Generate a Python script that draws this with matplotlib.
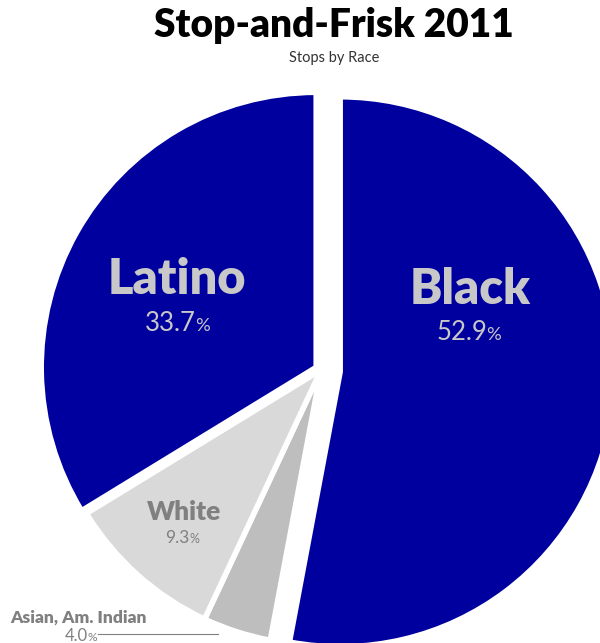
import numpy as np
import matplotlib
matplotlib.use("Agg")
import matplotlib.pyplot as plt

# data (clockwise from 12 o'clock)
groups = ["Black", "Asian, Am. Indian", "White", "Latino"]
shares = [52.9, 4.0, 9.3, 33.7]
colors = ["#00009E", "#BEBEBE", "#D9D9D9", "#00009E"]
explode = [0.07, 0.0, 0.0, 0.02]

BLUE_TXT = "#C8C8C8"
GRAY_TXT = "#808080"

fig = plt.figure(figsize=(6.0, 6.43), dpi=100)
ax = fig.add_axes([0, 0, 1, 1])

# pie centre sits at pixel (321, 370), radius 275 px
cx, cy, r = 321, 370, 275


def px(x, y):
    return (x - cx) / r, (cy - y) / r


ax.pie(shares, colors=colors, explode=explode, startangle=90, counterclock=False,
       radius=1.0, wedgeprops=dict(edgecolor="white", linewidth=4))
ax.set_xlim(px(0, 0)[0], px(600, 0)[0])
ax.set_ylim(px(0, 643)[1], px(0, 0)[1])
ax.set_aspect("equal")
ax.axis("off")


def pct_text(split_x, base_y, value, size, color):
    # number left of split, smaller % sign right of it, same baseline
    ax.text(*px(split_x, base_y), f"{value:.1f}", ha="right", va="baseline",
            fontsize=size, family="Lato", color=color, zorder=5)
    ax.text(*px(split_x - 1, base_y), "%", ha="left", va="baseline",
            fontsize=size * 0.72, family="Lato", color=color, zorder=5)


def label(x, y, name, value, size, psize, color, base_y, split):
    ax.text(*px(x, y), name, ha="center", va="center", fontsize=size,
            fontweight="heavy", family="Lato", color=color, zorder=5)
    pct_text(x + split, base_y, value, psize, color)


label(470, 290, groups[0], shares[0], 35, 18.5, BLUE_TXT, 340, 17)
label(177, 280, groups[3], shares[3], 35, 18.5, BLUE_TXT, 331, 19)
label(184, 512, groups[2], shares[2], 19, 12.5, GRAY_TXT, 543, 6)

# Asian label, outside with leader line
ax.text(*px(78, 618), groups[1], ha="center", va="center", fontsize=12.5,
        fontweight="heavy", family="Lato", color=GRAY_TXT)
pct_text(88, 641, shares[1], 12, GRAY_TXT)
x0, y0 = px(98, 634)
x1, y1 = px(218, 634)
ax.plot([x0, x1], [y0, y1], color=GRAY_TXT, lw=0.8)

fig.text(334 / 600, 1 - 25 / 643, "Stop-and-Frisk 2011", ha="center", va="center",
         fontsize=28, fontweight="heavy", family="Lato", color="black")
fig.text(334 / 600, 1 - 58 / 643, "Stops by Race", ha="center", va="center",
         fontsize=10.5, family="Lato", color="#333333")

fig.savefig("out.png", dpi=100)
